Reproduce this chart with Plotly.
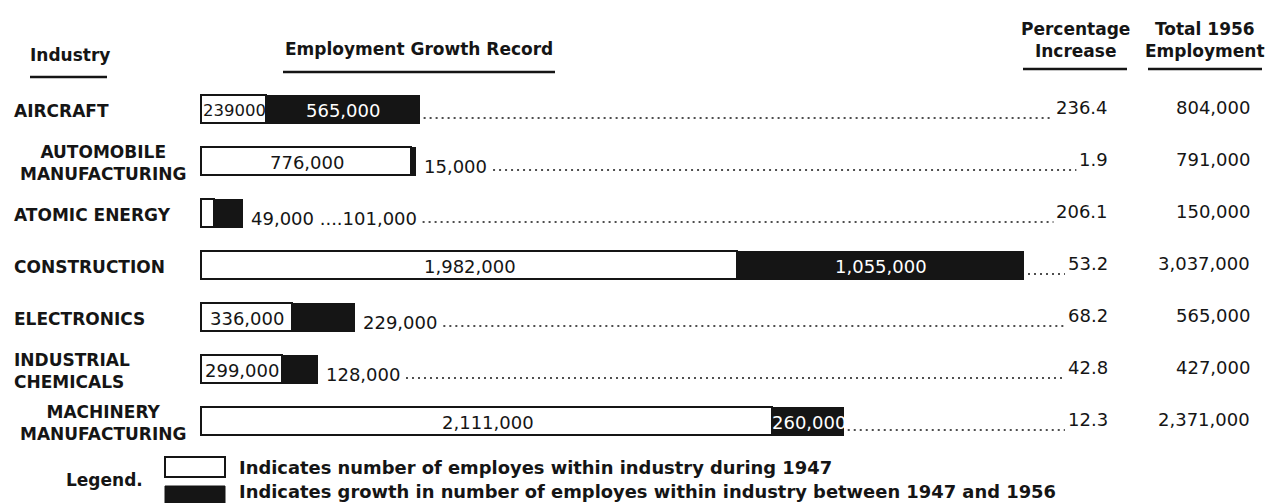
import plotly.graph_objects as go

# ---------------- data ----------------
industries = ["AIRCRAFT", "AUTOMOBILE<br>MANUFACTURING", "ATOMIC ENERGY", "CONSTRUCTION",
              "ELECTRONICS", "INDUSTRIAL<br>CHEMICALS", "MACHINERY<br>MANUFACTURING"]
industry_align = ["left", "center", "left", "left", "left", "left", "center"]
emp_1947 = [239000, 776000, 49000, 1982000, 336000, 299000, 2111000]
growth = [565000, 15000, 101000, 1055000, 229000, 128000, 260000]
label_1947 = ["239000", "776,000", "49,000", "1,982,000", "336,000", "299,000", "2,111,000"]
label_growth = ["565,000", "15,000", "101,000", "1,055,000", "229,000", "128,000", "260,000"]
inside_1947 = [True, True, False, True, True, True, True]
inside_growth = [True, False, False, True, False, False, True]
pct_increase = ["236.4", "1.9", "206.1", "53.2", "68.2", "42.8", "12.3"]
total_1956 = [804000, 791000, 150000, 3037000, 565000, 427000, 2371000]

legend_text_1947 = "Indicates number of employes within industry during 1947"
legend_text_growth = "Indicates growth in number of employes within industry between 1947 and 1956"

# ---------------- layout geometry ----------------
W, H = 1266, 503
FONT = "DejaVu Sans"
INK = "#151515"
NUM_SIZE = 18
LBL_SIZE = 17
HDR_SIZE = 17

X0_PX, XMAX_PX = 202, 1024
scale = (XMAX_PX - X0_PX) / max(total_1956)          # pixels per employee
x_range = [-X0_PX / scale, (W - X0_PX) / scale]
ROW0_PX, ROW_STEP = 110, 52
y_range = [(H - ROW0_PX) / ROW_STEP, -ROW0_PX / ROW_STEP]

PCT_RIGHT_PX = 1110
TOT_RIGHT_PX = 1252


def x_from_px(px):
    return (px - X0_PX) / scale


def px_from_x(v):
    return X0_PX + v * scale


def px(p):
    return p / W


def py(p):
    return 1 - p / H


CHAR_W = {",": 0.318, ".": 0.318, " ": 0.318}


def text_w(s, size=NUM_SIZE):
    return sum(CHAR_W.get(c, 0.636) for c in s) * size


rows = list(range(len(industries)))

fig = go.Figure()
fig.add_trace(go.Bar(y=rows, x=emp_1947, orientation="h", width=0.54,
                     marker=dict(color="white", line=dict(color=INK, width=1.8)),
                     hoverinfo="skip", showlegend=False))
fig.add_trace(go.Bar(y=rows, x=growth, orientation="h", width=0.54,
                     marker=dict(color=INK, line=dict(color=INK, width=1.0)),
                     hoverinfo="skip", showlegend=False))

ann = []
shapes = []

for i in rows:
    base, g = emp_1947[i], growth[i]
    end = base + g
    outside = []
    if inside_1947[i]:
        ann.append(dict(x=base / 2, y=i, xref="x", yref="y", text=label_1947[i], showarrow=False,
                        font=dict(family=FONT, size=NUM_SIZE if "," in label_1947[i] else 16.5,
                                  color=INK)))
    else:
        outside.append(label_1947[i])
    if inside_growth[i]:
        ann.append(dict(x=base + g / 2, y=i, xref="x", yref="y", text=label_growth[i], showarrow=False,
                        font=dict(family=FONT, size=NUM_SIZE, color="white")))
    else:
        outside.append(label_growth[i])
    end_px = px_from_x(end)
    if outside:
        otext = " ....".join(outside)
        ann.append(dict(x=end, y=i, xref="x", yref="y", text=otext, showarrow=False,
                        xanchor="left", xshift=6, yshift=-4,
                        font=dict(family=FONT, size=NUM_SIZE, color=INK)))
        lead_start = end_px + 6 + text_w(otext) + 8
    else:
        lead_start = end_px + 4
    lead_end = PCT_RIGHT_PX - text_w(pct_increase[i]) - 5
    yl = i + 8 / ROW_STEP
    shapes.append(dict(type="line", xref="x", yref="y", x0=x_from_px(lead_start), x1=x_from_px(lead_end),
                       y0=yl, y1=yl, line=dict(color=INK, width=1.7, dash="2px,4px")))
    # percentage and totals
    ann.append(dict(x=px(PCT_RIGHT_PX), y=i, xref="paper", yref="y", text=pct_increase[i], showarrow=False,
                    xanchor="right", yshift=3, font=dict(family=FONT, size=NUM_SIZE, color=INK)))
    ann.append(dict(x=px(TOT_RIGHT_PX), y=i, xref="paper", yref="y", text=f"{total_1956[i]:,}", showarrow=False,
                    xanchor="right", yshift=3, font=dict(family=FONT, size=NUM_SIZE, color=INK)))
    # industry labels
    if industry_align[i] == "left":
        ann.append(dict(x=px(12), y=i, xref="paper", yref="y", text="<b>" + industries[i] + "</b>",
                        showarrow=False, xanchor="left", align="left", yshift=-1,
                        font=dict(family=FONT, size=LBL_SIZE, color=INK)))
    else:
        ann.append(dict(x=px(103), y=i, xref="paper", yref="y", text="<b>" + industries[i] + "</b>",
                        showarrow=False, xanchor="center", align="center", yshift=-1,
                        font=dict(family=FONT, size=LBL_SIZE, color=INK)))

# headers
hdr = dict(family=FONT, size=HDR_SIZE, color=INK)
ann += [
    dict(x=px(28), y=py(55), xref="paper", yref="paper", text="<b>Industry</b>", showarrow=False,
         xanchor="left", yanchor="middle", font=hdr),
    dict(x=px(283), y=py(49), xref="paper", yref="paper", text="<b>Employment Growth Record</b>", showarrow=False,
         xanchor="left", yanchor="middle", font=hdr),
    dict(x=px(1075), y=py(40), xref="paper", yref="paper", text="<b>Percentage<br>Increase</b>", showarrow=False,
         xanchor="center", yanchor="middle", align="center", font=hdr),
    dict(x=px(1205), y=py(40), xref="paper", yref="paper", text="<b>Total 1956<br>Employment</b>", showarrow=False,
         xanchor="center", yanchor="middle", align="center", font=hdr),
    dict(x=px(104), y=py(480), xref="paper", yref="paper", text="<b>Legend.</b>", showarrow=False,
         xanchor="center", yanchor="middle", font=hdr),
    dict(x=px(237), y=py(467), xref="paper", yref="paper", text="<b>" + legend_text_1947 + "</b>", showarrow=False,
         xanchor="left", yanchor="middle", font=dict(family=FONT, size=17.9, color=INK)),
    dict(x=px(237), y=py(491), xref="paper", yref="paper", text="<b>" + legend_text_growth + "</b>", showarrow=False,
         xanchor="left", yanchor="middle", font=dict(family=FONT, size=17.9, color=INK)),
]

# header underlines
for x0, x1, yy in [(30, 107, 77), (283, 555, 72), (1023, 1127, 69), (1148, 1262, 69)]:
    shapes.append(dict(type="line", xref="paper", yref="paper", x0=px(x0), x1=px(x1), y0=py(yy), y1=py(yy),
                       line=dict(color=INK, width=2.6)))

# legend swatches
shapes.append(dict(type="rect", xref="paper", yref="paper", x0=px(165), x1=px(225), y0=py(457), y1=py(477),
                   fillcolor="white", line=dict(color=INK, width=2)))
shapes.append(dict(type="rect", xref="paper", yref="paper", x0=px(165), x1=px(225), y0=py(486), y1=py(515),
                   fillcolor=INK, line=dict(color=INK, width=1)))

fig.update_layout(
    width=W, height=H, autosize=False,
    margin=dict(l=0, r=0, t=0, b=0, pad=0),
    barmode="stack", bargap=0,
    plot_bgcolor="white", paper_bgcolor="white",
    xaxis=dict(range=x_range, visible=False, fixedrange=True),
    yaxis=dict(range=y_range, visible=False, fixedrange=True),
    annotations=ann, shapes=shapes, showlegend=False,
)

fig.write_html("out.html", config={"displayModeBar": False},
               post_script="document.body.style.margin='0';document.body.style.overflow='hidden';")
